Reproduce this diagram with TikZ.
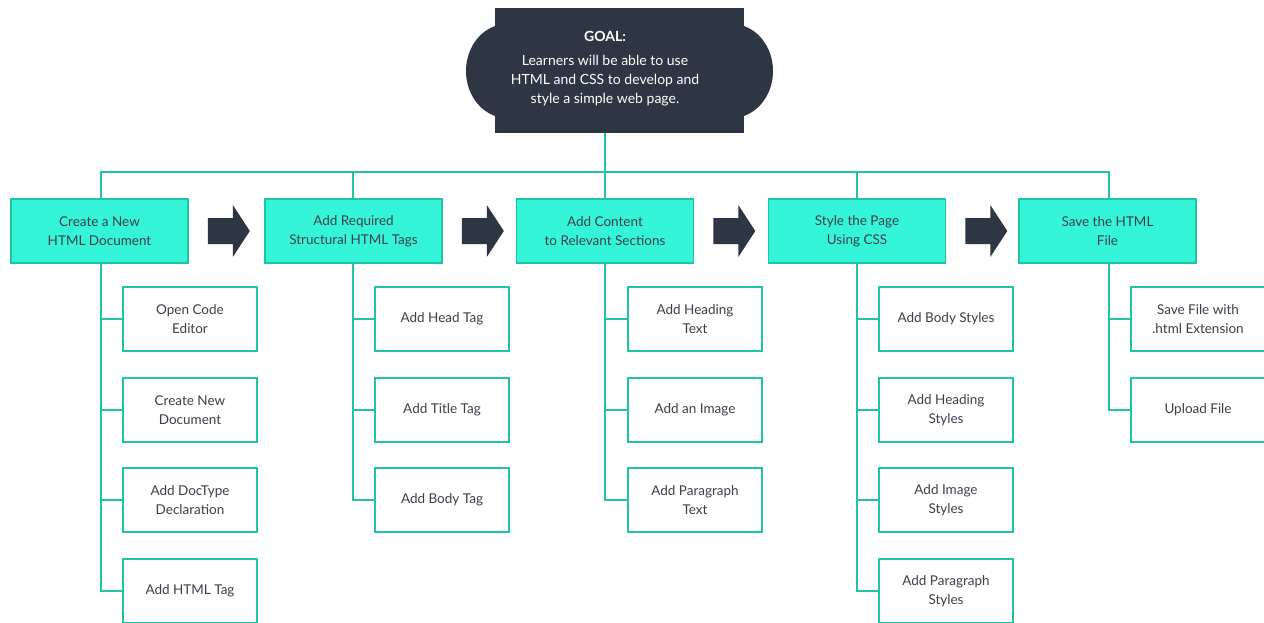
\documentclass[tikz,border=0pt]{standalone}
\usepackage{fontspec}
\setmainfont{Lato}
\usetikzlibrary{positioning}
\definecolor{teal}{HTML}{34F5D7}
\definecolor{tealline}{HTML}{1FC4A4}
\definecolor{dark}{HTML}{2E3643}
\definecolor{txt}{HTML}{3A3F4A}
\tikzset{
  topbox/.style={draw=tealline, line width=1.6pt, fill=teal, minimum width=177, minimum height=64, align=center, text=txt, font=\fontsize{13.5}{19}\selectfont, inner sep=0},
  subbox/.style={draw=tealline, line width=1.6pt, fill=white, minimum width=134, minimum height=64, align=center, text=txt, font=\fontsize{13.5}{19}\selectfont, inner sep=0},
  link/.style={draw=tealline, line width=1.6pt},
  bigarrow/.style={fill=dark},
}
\begin{document}
\begin{tikzpicture}[x=1pt,y=-1pt]
\clip (0,0) rectangle (1264,622);
\fill[white] (0,0) rectangle (1264,622);
% goal
\fill[dark] (507,71) ellipse [x radius=41, y radius=47];
\fill[dark] (732,71) ellipse [x radius=41, y radius=47];
\node[fill=dark, minimum width=249, minimum height=125, inner sep=0] (goalbox) at (619.5,70.5) {};
\node[text=white, align=center, font=\fontsize{14}{19}\selectfont, inner sep=0] (goal) at (605,69) {\textbf{GOAL:}\\[5pt]Learners will be able to use\\HTML and CSS to develop and\\style a simple web page.};
\coordinate (bus) at (605,172);
% top boxes
\node[topbox] (t1) at (99.5,231) {Create a New\\HTML Document};
\node[topbox] (t2) at (353.5,231) {Add Required\\Structural HTML Tags};
\node[topbox] (t3) at (605,231) {Add Content\\to Relevant Sections};
\node[topbox] (t4) at (857,231) {Style the Page\\Using CSS};
\node[topbox] (t5) at (1107.5,231) {Save the HTML\\File};
\draw[link] (goalbox.south -| bus) -- (bus);
\draw[link] (t1.north -| 101,0) |- (bus);
\draw[link] (t2.north -| 353,0) |- (bus);
\draw[link] (t3.north) -- (bus);
\draw[link] (t4.north) |- (bus);
\draw[link] (t5.north -| 1109,0) |- (bus);
% arrows
\foreach \a in {t1,t2,t3,t4}{
  \path (\a.east) ++(19,0) coordinate (p);
  \fill[bigarrow] (p) ++(0,-13) -- ++(25,0) -- ++(0,-13) -- ++(17,26) -- ++(-17,26) -- ++(0,-13) -- ++(-25,0) -- cycle;
}
% sub boxes column 1
\node[subbox] (s11) at (190,319) {Open Code\\Editor};
\node[subbox] (s12) at (190,410) {Create New\\Document};
\node[subbox] (s13) at (190,500) {Add DocType\\Declaration};
\node[subbox] (s14) at (190,591) {Add HTML Tag};
% column 2
\node[subbox] (s21) at (442,319) {Add Head Tag};
\node[subbox] (s22) at (442,410) {Add Title Tag};
\node[subbox] (s23) at (442,500) {Add Body Tag};
% column 3
\node[subbox] (s31) at (695,319) {Add Heading\\Text};
\node[subbox] (s32) at (695,410) {Add an Image};
\node[subbox] (s33) at (695,500) {Add Paragraph\\Text};
% column 4
\node[subbox] (s41) at (946,319) {Add Body Styles};
\node[subbox] (s42) at (946,410) {Add Heading\\Styles};
\node[subbox] (s43) at (946,500) {Add Image\\Styles};
\node[subbox] (s44) at (946,591) {Add Paragraph\\Styles};
% column 5
\node[subbox] (s51) at (1198,319) {Save File with\\.html Extension};
\node[subbox] (s52) at (1198,410) {Upload File};
% links
\foreach \s in {s11,s12,s13,s14}{\draw[link] (t1.south -| 101,0) |- (\s.west);}
\foreach \s in {s21,s22,s23}{\draw[link] (t2.south -| 353,0) |- (\s.west);}
\foreach \s in {s31,s32,s33}{\draw[link] (t3.south) |- (\s.west);}
\foreach \s in {s41,s42,s43,s44}{\draw[link] (t4.south) |- (\s.west);}
\foreach \s in {s51,s52}{\draw[link] (t5.south -| 1109,0) |- (\s.west);}
\end{tikzpicture}
\end{document}
